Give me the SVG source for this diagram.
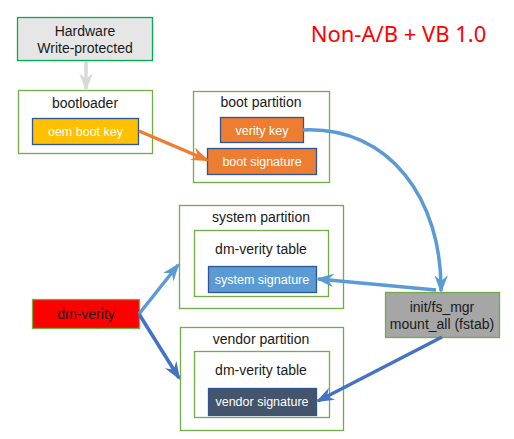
<svg xmlns="http://www.w3.org/2000/svg" width="514" height="439" viewBox="0 0 514 439">
<style>
.t{font-family:"Liberation Sans",Arial,sans-serif;font-size:14px;fill:#1a1a1a;text-anchor:middle}
.w{font-family:"Liberation Sans",Arial,sans-serif;font-size:12.5px;fill:#fff;text-anchor:middle}
.part{fill:#fff;stroke:#70ad47;stroke-width:1.3}
.key{stroke:#2f5597;stroke-width:1.3}
.c{fill:none;stroke-width:3.5}
</style>
<defs>
<marker id="ao" viewBox="0 0 16 12" refX="14" refY="6" markerWidth="18" markerHeight="14" markerUnits="userSpaceOnUse" orient="auto"><path d="M0,0 L16,6 L0,12 L5,6 z" fill="#ed7d31"/></marker>
<marker id="al" viewBox="0 0 16 12" refX="14" refY="6" markerWidth="18" markerHeight="14" markerUnits="userSpaceOnUse" orient="auto"><path d="M0,0 L16,6 L0,12 L5,6 z" fill="#5b9bd5"/></marker>
<marker id="ad" viewBox="0 0 16 12" refX="14" refY="6" markerWidth="18" markerHeight="14" markerUnits="userSpaceOnUse" orient="auto"><path d="M0,0 L16,6 L0,12 L5,6 z" fill="#4472c4"/></marker>
<marker id="ag" viewBox="0 0 16 12" refX="14" refY="6" markerWidth="18" markerHeight="14" markerUnits="userSpaceOnUse" orient="auto"><path d="M0,0 L16,6 L0,12 L5,6 z" fill="#d9d9d9"/></marker>
</defs>
<rect width="514" height="439" fill="#fff"/>
<text x="398.5" y="42" font-family="'Noto Sans','Open Sans',sans-serif" font-size="22" fill="#ff0000" text-anchor="middle">Non-A/B + VB 1.0</text>

<g id="hardware">
<rect x="17.5" y="17.5" width="135" height="43" fill="#e6e6e6" stroke="#00b050" stroke-width="1.3"/>
<text class="t" x="85" y="36">Hardware</text>
<text class="t" x="85" y="53">Write-protected</text>
</g>
<g id="bootloader">
<rect class="part" x="18.5" y="90.5" width="134" height="63"/>
<text class="t" x="85" y="108">bootloader</text>
<rect class="key" x="32.5" y="118.5" width="106" height="26" fill="#ffc000"/>
<text class="w" x="85.5" y="135.5">oem boot key</text>
</g>
<g id="boot-partition">
<rect class="part" x="193.5" y="91.5" width="136" height="91"/>
<text class="t" x="261" y="107">boot partition</text>
<rect class="key" x="220.5" y="117.5" width="83" height="25" fill="#ed7d31"/>
<text class="w" x="262" y="134.5">verity key</text>
<rect class="key" x="207.5" y="148.5" width="109" height="26" fill="#ed7d31"/>
<text class="w" x="262" y="165.5">boot signature</text>
</g>
<g id="system-partition">
<rect class="part" x="179.5" y="205.5" width="164" height="103"/>
<text class="t" x="261" y="222">system partition</text>
<rect class="part" x="194.5" y="230.5" width="134" height="66"/>
<text class="t" x="261" y="254">dm-verity table</text>
<rect class="key" x="208.5" y="266.5" width="108" height="26" fill="#5b9bd5" stroke="#41719c"/>
<text class="w" x="262" y="283.5">system signature</text>
</g>
<g id="vendor-partition">
<rect class="part" x="180.5" y="327.5" width="163" height="103"/>
<text class="t" x="261" y="344">vendor partition</text>
<rect class="part" x="194.5" y="351.5" width="135" height="66"/>
<text class="t" x="261" y="375">dm-verity table</text>
<rect class="key" x="208.5" y="388.5" width="108" height="27" fill="#44546a" stroke="#2f5597"/>
<text class="w" x="262" y="405.5">vendor signature</text>
</g>
<g id="dm-verity">
<rect x="32.5" y="299.5" width="107" height="29" fill="#ff0000" stroke="#70ad47" stroke-width="1.3"/>
<text class="t" x="86" y="319">dm-verity</text>
</g>
<g id="init-fs-mgr">
<rect x="385.5" y="292.5" width="114" height="45" fill="#a6a6a6" stroke="#70ad47" stroke-width="1.3"/>
<text class="t" x="442" y="312">init/fs_mgr</text>
<text class="t" x="442" y="329">mount_all (fstab)</text>
</g>

<g id="connectors">
<path class="c" d="M86,61 L86,89" stroke="#d9d9d9" stroke-width="3" marker-end="url(#ag)"/>
<path class="c" d="M139,131 L207,160" stroke="#ed7d31" marker-end="url(#ao)"/>
<path class="c" d="M303,130 C390,126 442,200 441,291" stroke="#5b9bd5" marker-end="url(#al)"/>
<path class="c" d="M436,290 L318,279" stroke="#5b9bd5" marker-end="url(#al)"/>
<path class="c" d="M442,337 L318,401" stroke="#4472c4" marker-end="url(#ad)"/>
<path class="c" d="M139,314 L178,265" stroke="#5b9bd5" marker-end="url(#al)"/>
<path class="c" d="M139,314 L179,378" stroke="#4472c4" marker-end="url(#ad)"/>
</g>
</svg>
